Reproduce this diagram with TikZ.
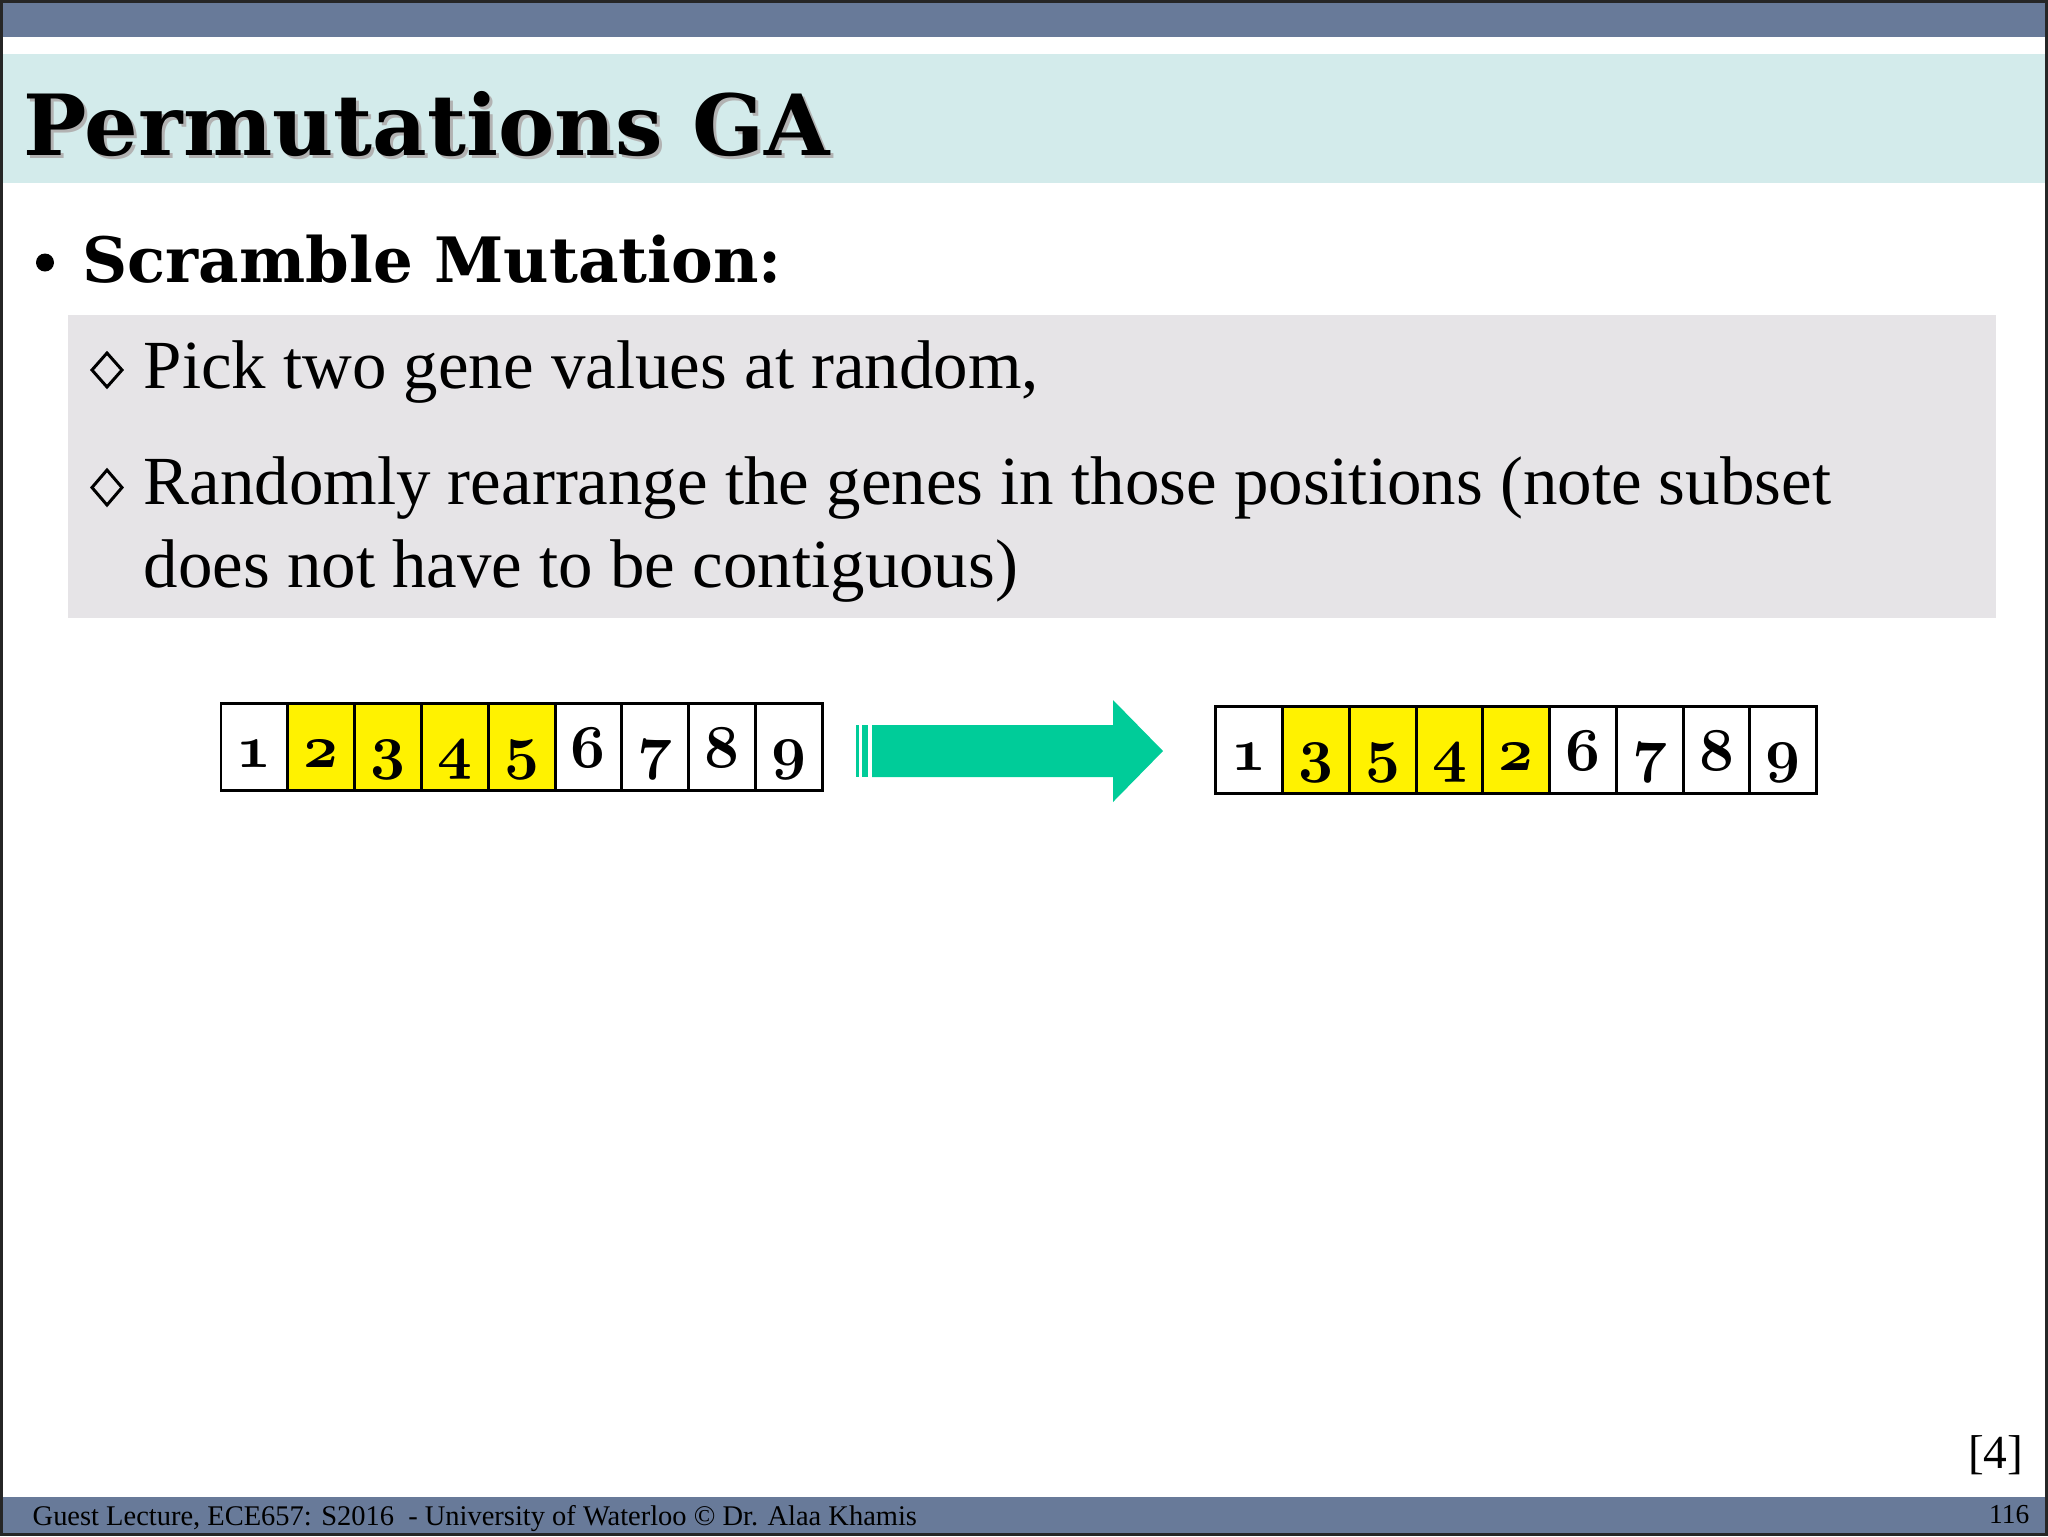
\documentclass[tikz,border=0pt]{standalone}
\usepackage{fontspec}
\setmainfont{Liberation Serif}
\newfontfamily\headfont{DejaVu Serif}
\definecolor{barblue}{HTML}{687A99}
\definecolor{titlecyan}{HTML}{D3EBEB}
\definecolor{boxgray}{HTML}{E6E4E7}
\definecolor{arrowgreen}{HTML}{00CC99}
\newcommand{\genenum}[1]{{\fontsize{16.8}{18}\usefont{OML}{cmm}{b}{it}#1}}
\tikzset{
  txt/.style={anchor=base west, inner sep=0pt},
  gene/.style={draw, line width=0.85pt, minimum width=6.68mm, minimum height=8.7mm,
    inner sep=0pt, text height=4.5mm, text depth=0.4mm},
  dia/.style={line width=0.85pt, line join=miter}
}
\begin{document}
\begin{tikzpicture}[x=0.1mm, y=-0.1mm]%one unit is one pixel of the slide
  \useasboundingbox (0,0) rectangle (2048,1536);
  % bars and boxes
  \fill[barblue] (0,0) rectangle (2048,37);
  \fill[titlecyan] (3,54) rectangle (2048,183);
  \fill[boxgray] (68,315) rectangle (1996,618);
  \fill[barblue] (0,1497) rectangle (2048,1533);
  \draw[line width=0.85pt, black!85] (1.5,1.5) rectangle (2046.5,1534.5);
  % title
  \node[txt, text=black!30, font=\headfont\bfseries\fontsize{24}{28}\selectfont] (shadow) at (26,158) {Permutations GA};
  \node[txt, font=\headfont\bfseries\fontsize{24}{28}\selectfont] (title) at (23,155) {Permutations GA};
  \fill (45,262.5) circle (9);
  \node[txt, font=\headfont\bfseries\fontsize{17.8}{21}\selectfont] (scramble) at (82,282) {Scramble Mutation:};
  % sub bullets
  \draw[dia] (92,370) -- (107,353) -- (122,370) -- (107,387) -- cycle;
  \draw[dia] (92,487.5) -- (107,470) -- (122,487.5) -- (107,505) -- cycle;
  \node[txt, font=\fontsize{19.6}{22}\selectfont] (pick) at (143,388) {Pick two gene values at random,};
  \node[txt, font=\fontsize{19.6}{22}\selectfont] (rand) at (143,504) {Randomly rearrange the genes in those positions (note subset};
  \node[txt, font=\fontsize{19.6}{22}\selectfont] (contig) at (143,587) {does not have to be contiguous)};
  % chromosomes
  \foreach \v/\c [count=\i] in {1/white,2/yellow,3/yellow,4/yellow,5/yellow,6/white,7/white,8/white,9/white}
    \node[gene, fill=\c] (a\i) at ({187.6+66.8*\i}, 746.5) {\genenum{\v}};
  \foreach \v/\c [count=\i] in {1/white,3/yellow,5/yellow,4/yellow,2/yellow,6/white,7/white,8/white,9/white}
    \node[gene, fill=\c] (b\i) at ({1182.6+66.75*\i}, 749.5) {\genenum{\v}};
  % arrow
  \fill[arrowgreen] (856,725) rectangle (859,777);
  \fill[arrowgreen] (862,725) rectangle (868,777);
  \fill[arrowgreen] (872,725) -- (1113,725) -- (1113,700) -- (1163,751) -- (1113,802) -- (1113,777) -- (872,777) -- cycle;
  % footer
  \node[txt, font=\fontsize{8.1}{9}\selectfont] (footer) at (32,1525) {Guest Lecture, ECE657: S2016~ - University of Waterloo \textcopyright{} Dr. Alaa Khamis};
  \node[anchor=base east, inner sep=0pt, font=\fontsize{7.8}{9}\selectfont] (pageno) at (2030,1523) {116};
  \node[anchor=base east, inner sep=0pt, font=\fontsize{13.5}{15}\selectfont] (ref) at (2024,1468) {[4]};
\end{tikzpicture}
\end{document}
